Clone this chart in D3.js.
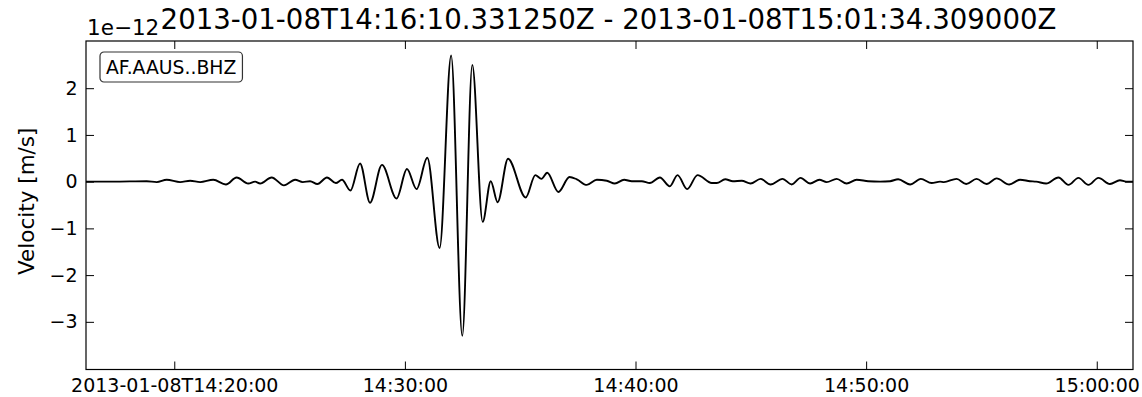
<!DOCTYPE html>
<html>
<head>
<meta charset="utf-8">
<script src="https://cdn.jsdelivr.net/npm/d3@7"></script>
<style>
  html, body { margin: 0; padding: 0; background: #fff; }
  svg { display: block; font-family: "DejaVu Sans", sans-serif; }
</style>
</head>
<body>
<svg id="chart" width="1142" height="397"></svg>
<script>
// Trace window
const traceStart = "2013-01-08T14:16:10.331Z";
const traceEnd = "2013-01-08T15:01:34.309Z";
const titleParts = ["2013-01-08T14:16:10.331250Z", "2013-01-08T15:01:34.309000Z"];
const stationId = "AF.AAUS..BHZ";
const yLabel = "Velocity [m/s]";
const exponentLabel = "1e\u221212";

// Seconds after trace start, and ground velocity in units of 1e-12 m/s
const offsetSeconds = [
  0, 70, 158, 184, 210, 245, 271, 297, 331, 364, 392, 422, 440, 453, 483, 515,
  544, 564, 583, 602, 627, 650, 666, 688, 713, 739, 770, 808, 835, 860, 888,
  920, 950, 979, 1005, 1032, 1053, 1071, 1098, 1144, 1169, 1185, 1200, 1229,
  1258, 1277, 1303, 1329, 1355, 1376, 1400, 1420, 1446, 1467, 1493, 1519,
  1539, 1564, 1591, 1628, 1641, 1663, 1683, 1706, 1729, 1755, 1781, 1812,
  1836, 1859, 1884, 1908, 1927, 1953, 1979, 2005, 2035, 2066, 2092, 2113,
  2144, 2172, 2200, 2222, 2232, 2265, 2290, 2317, 2343, 2369, 2402, 2430,
  2456, 2472, 2498, 2530, 2556, 2582, 2608, 2634, 2664, 2690, 2706, 2724
];
const velocity = [
  0.00, 0.00, 0.01, -0.01, 0.04, -0.01, 0.02, -0.01, 0.04, -0.06, 0.09, -0.04,
  0.00, -0.04, 0.09, -0.08, 0.04, -0.01, 0.01, -0.05, 0.09, -0.03, 0.04,
  -0.19, 0.39, -0.45, 0.36, -0.36, 0.27, -0.16, 0.51, -1.42, 2.70, -3.30,
  2.50, -0.86, 0.01, -0.44, 0.49, -0.34, 0.14, 0.06, 0.19, -0.22, 0.10, 0.05,
  -0.07, 0.04, 0.02, -0.04, 0.04, 0.01, 0.01, -0.03, 0.09, -0.10, 0.14, -0.16,
  0.14, -0.03, -0.03, 0.05, 0.01, 0.02, -0.04, 0.06, -0.06, 0.06, -0.06, 0.08,
  -0.04, 0.04, -0.01, 0.06, -0.04, 0.04, 0.01, 0.00, 0.01, 0.05, -0.06, 0.06,
  -0.03, 0.00, -0.01, 0.06, -0.05, 0.06, -0.05, 0.07, -0.06, 0.04, 0.01, 0.00,
  -0.04, 0.09, -0.07, 0.08, -0.07, 0.08, -0.05, 0.03, 0.00, 0.00
];

const yRange = [-4.02, 3.01];
const yTicks = [-3, -2, -1, 0, 1, 2];
const xTickTimes = [
  "2013-01-08T14:20:00Z", "2013-01-08T14:30:00Z", "2013-01-08T14:40:00Z",
  "2013-01-08T14:50:00Z", "2013-01-08T15:00:00Z"
];
const xTickLabels = ["2013-01-08T14:20:00", "14:30:00", "14:40:00", "14:50:00", "15:00:00"];

const svg = d3.select("#chart");
const margin = { left: 86, right: 9, top: 41, bottom: 27.5 };
const W = +svg.attr("width"), H = +svg.attr("height");
const innerW = W - margin.left - margin.right;
const innerH = H - margin.top - margin.bottom;

const t0 = new Date(traceStart);
const x = d3.scaleUtc()
  .domain([t0, new Date(traceEnd)])
  .range([0, innerW]);
const y = d3.scaleLinear().domain(yRange).range([innerH, 0]);

const g = svg.append("g").attr("transform", `translate(${margin.left},${margin.top})`);

const points = offsetSeconds.map((s, i) => ({ t: new Date(t0.getTime() + s * 1000), v: velocity[i] }));

const clip = svg.append("defs").append("clipPath").attr("id", "plot-clip");
clip.append("rect").attr("width", innerW).attr("height", innerH);

g.append("path")
  .datum(points)
  .attr("clip-path", "url(#plot-clip)")
  .attr("fill", "none")
  .attr("stroke", "#000")
  .attr("stroke-width", 1.9)
  .attr("stroke-linejoin", "round")
  .attr("d", d3.line().x(d => x(d.t)).y(d => y(d.v)).curve(d3.curveMonotoneX));

// Axes with inward ticks on all four sides
const tickDates = xTickTimes.map(s => new Date(s));
const labelFor = d => xTickLabels[tickDates.findIndex(t => t.getTime() === d.getTime())];

const styleAxis = sel => {
  sel.select(".domain").remove();
  sel.selectAll(".tick line").attr("stroke", "#000").attr("stroke-width", 1);
  sel.selectAll(".tick text").attr("fill", "#000").style("font-size", "19px")
    .style("font-family", "DejaVu Sans");
};

g.append("g").attr("transform", `translate(0,${innerH})`)
  .call(d3.axisBottom(x).tickValues(tickDates).tickFormat(labelFor)
    .tickSizeInner(-8).tickSizeOuter(0).tickPadding(9.5))
  .call(styleAxis);
g.append("g")
  .call(d3.axisTop(x).tickValues(tickDates).tickFormat("")
    .tickSizeInner(-8).tickSizeOuter(0))
  .call(styleAxis);
g.append("g")
  .call(d3.axisLeft(y).tickValues(yTicks).tickFormat(d3.format("d"))
    .tickSizeInner(-8).tickSizeOuter(0).tickPadding(8.5))
  .call(styleAxis);
g.append("g").attr("transform", `translate(${innerW},0)`)
  .call(d3.axisRight(y).tickValues(yTicks).tickFormat("")
    .tickSizeInner(-8).tickSizeOuter(0))
  .call(styleAxis);

g.append("rect")
  .attr("width", innerW).attr("height", innerH)
  .attr("fill", "none").attr("stroke", "#000").attr("stroke-width", 1.2);

// Station label box
const label = g.append("g").attr("transform", "translate(14,11)");
const labelText = label.append("text")
  .attr("x", 6).attr("y", 22)
  .style("font-size", "18.8px").attr("fill", "#000")
  .text(stationId);
const bb = labelText.node().getBBox();
label.insert("rect", "text")
  .attr("x", 0).attr("y", 0)
  .attr("width", bb.width + 12).attr("height", 30)
  .attr("rx", 4).attr("ry", 4)
  .attr("fill", "#fff").attr("stroke", "#333").attr("stroke-width", 1.2);

// Title, exponent and y label
svg.append("text")
  .attr("x", margin.left + innerW / 2 - 1).attr("y", 29)
  .attr("text-anchor", "middle")
  .style("font-size", "27.6px").attr("fill", "#000")
  .text(titleParts.join(" - "));

svg.append("text")
  .attr("x", 87).attr("y", 35)
  .style("font-size", "21.5px").attr("fill", "#000")
  .text(exponentLabel);

svg.append("text")
  .attr("transform", `translate(34,${margin.top + innerH / 2 - 4}) rotate(-90)`)
  .attr("text-anchor", "middle")
  .style("font-size", "21.5px").attr("fill", "#000")
  .text(yLabel);
</script>
</body>
</html>
